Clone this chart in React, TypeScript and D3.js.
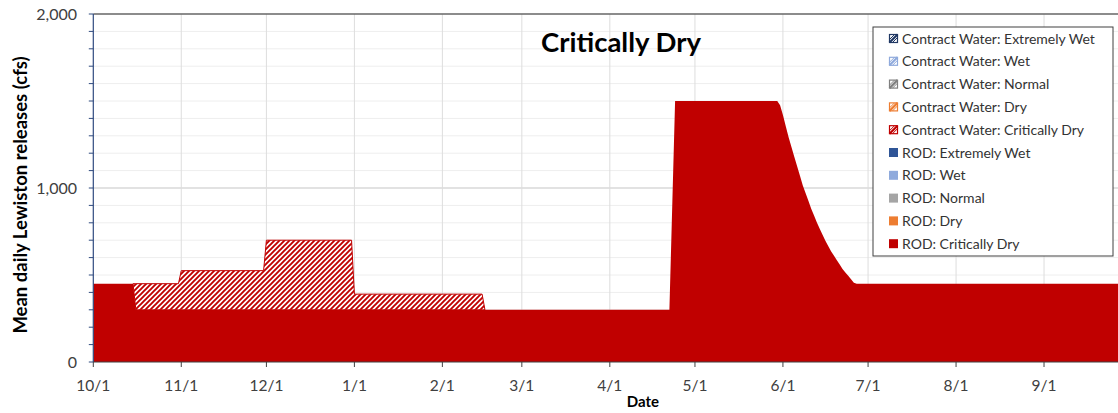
import React from 'react';
import * as d3 from 'd3';

// ---- data ----
const dates = [
  "10/1", "10/15", "10/16", "10/31", "11/1", "11/30", "12/1", "12/31", "1/1", "2/15", "2/16",
  "4/22", "4/24", "5/30",
  "5/31", "6/1", "6/2", "6/3", "6/4", "6/5", "6/6", "6/7", "6/8", "6/9", "6/10", "6/11", "6/12", "6/13",
  "6/14", "6/15", "6/16", "6/17", "6/18", "6/19", "6/20", "6/21", "6/22", "6/23", "6/24", "6/25", "6/26", "6/27",
  "9/30",
];
const rodCriticallyDry = [
  450, 450, 300, 300, 300, 300, 300, 300, 300, 300, 300,
  300, 1500, 1500,
  1475, 1420, 1355, 1292, 1235, 1180, 1125, 1070, 1015, 970, 925, 880, 840, 800,
  765, 730, 695, 665, 635, 610, 585, 560, 535, 515, 495, 475, 455, 450,
  450,
];
const contractCriticallyDry: (number | null)[] = [
  null, 0, 150, 150, 225, 225, 400, 400, 90, 90, 0,
  null, null, null,
  null, null, null, null, null, null, null, null, null, null, null, null, null, null,
  null, null, null, null, null, null, null, null, null, null, null, null, null, null,
  null,
];
const monthTicks = ["10/1", "11/1", "12/1", "1/1", "2/1", "3/1", "4/1", "5/1", "6/1", "7/1", "8/1", "9/1"];
const yTickValues = [0, 1000, 2000];
const legendItems = [
  { label: "Contract Water: Extremely Wet", color: "#203864", hatch: true },
  { label: "Contract Water: Wet", color: "#8FAADC", hatch: true },
  { label: "Contract Water: Normal", color: "#7F7F7F", hatch: true },
  { label: "Contract Water: Dry", color: "#ED7D31", hatch: true },
  { label: "Contract Water: Critically Dry", color: "#C00000", hatch: true },
  { label: "ROD: Extremely Wet", color: "#2F5597", hatch: false },
  { label: "ROD: Wet", color: "#8FAADC", hatch: false },
  { label: "ROD: Normal", color: "#A5A5A5", hatch: false },
  { label: "ROD: Dry", color: "#ED7D31", hatch: false },
  { label: "ROD: Critically Dry", color: "#C00000", hatch: false },
];

const parse = (s: string) => {
  const [m, d] = s.split('/').map(Number);
  return new Date(Date.UTC(m >= 10 ? 2018 : 2019, m - 1, d));
};

const FONT = "Lato, 'Open Sans', sans-serif";
const W = 1118, H = 413;
const x0 = 93.3, y0 = 362, yTop = 14;

export default function App() {
  const x = d3.scaleUtc()
    .domain([new Date(Date.UTC(2018, 9, 1)), new Date(Date.UTC(2019, 9, 1))])
    .range([x0, x0 + 365 * 2.838]);
  const y = d3.scaleLinear().domain([0, 2000]).range([y0, yTop]);

  const rows = dates.map((d, i) => ({ date: parse(d), rod: rodCriticallyDry[i], cw: contractCriticallyDry[i] }));

  const rodArea = d3.area<any>()
    .x(d => x(d.date)).y0(y(0)).y1(d => y(d.rod))(rows) || '';
  const cwArea = d3.area<any>()
    .defined(d => d.cw !== null)
    .x(d => x(d.date)).y0(d => y(d.rod)).y1(d => y(d.rod + d.cw))(rows) || '';

  const minor = d3.range(0, 2001, 100);
  const xRight = W;

  return (
    <svg width={W} height={H} style={{ position: 'absolute', left: 0, top: 0, background: '#fff' }}>
      <defs>
        <pattern id="hatch" patternUnits="userSpaceOnUse" width={5} height={5}>
          <rect width={5} height={5} fill="#fff" />
          <path d="M-1,1 L1,-1 M0,5 L5,0 M4,6 L6,4" stroke="#C00000" strokeWidth={1.9} />
        </pattern>
        <clipPath id="plotclip">
          <rect x={x0} y={0} width={W - x0} height={y0 + 1} />
        </clipPath>
      </defs>
      {/* gridlines */}
      {minor.filter(v => v > 0 && v < 2000).map(v => (
        <line key={'h' + v} x1={x0} x2={xRight} y1={y(v)} y2={y(v)}
          stroke={v === 1000 ? '#D9D9D9' : '#EEEEEE'} strokeWidth={v === 1000 ? 1.5 : 1} />
      ))}
      {monthTicks.slice(1).map(t => (
        <line key={'v' + t} x1={x(parse(t))} x2={x(parse(t))} y1={yTop} y2={y0} stroke="#DDDDDD" strokeWidth={1} />
      ))}
      <g clipPath="url(#plotclip)">
        <path d={rodArea} fill="#C00000" />
        <path d={cwArea} fill="url(#hatch)" stroke="#C00000" strokeWidth={1} />
      </g>
      {/* top border */}
      <line x1={x0} x2={xRight} y1={yTop} y2={yTop} stroke="#666666" strokeWidth={1.5} />
      {/* y axis */}
      <line x1={x0} x2={x0} y1={yTop} y2={y0} stroke="#2F4A7F" strokeWidth={1.2} />
      {minor.map(v => (
        <line key={'t' + v} x1={x0 - 4.5} x2={x0} y1={y(v)} y2={y(v)} stroke="#2F4A7F" strokeWidth={1} />
      ))}
      {yTickValues.map(v => (
        <text key={'yl' + v} x={77} y={y(v)} dy="0.35em" textAnchor="end" fontFamily={FONT}
          fontSize={16} fill="#404040">{d3.format(',')(v)}</text>
      ))}
      {/* x axis */}
      <line x1={x0} x2={xRight} y1={y0} y2={y0} stroke="#404040" strokeWidth={1.2} />
      {monthTicks.map(t => (
        <g key={'x' + t}>
          <line x1={x(parse(t))} x2={x(parse(t))} y1={y0} y2={y0 + 5} stroke="#404040" strokeWidth={1} />
          <text x={x(parse(t))} y={391} textAnchor="middle" fontFamily={FONT} fontSize={15.5} fill="#404040">{t}</text>
        </g>
      ))}
      <text x={643} y={407} textAnchor="middle" fontFamily={FONT} fontWeight="bold" fontSize={15} fill="#000">Date</text>
      <text transform="translate(27,195) rotate(-90)" textAnchor="middle" fontFamily={FONT} fontWeight="bold"
        fontSize={18.5} fill="#000">Mean daily Lewiston releases (cfs)</text>
      {/* title */}
      <text x={621} y={52} textAnchor="middle" fontFamily={FONT} fontWeight="bold" fontSize={27.5} fill="#000">Critically Dry</text>
      {/* legend */}
      <rect x={873} y={27} width={240} height={229} fill="#fff" stroke="#404040" strokeWidth={1} />
      {legendItems.map((it, i) => {
        const cy = 38.5 + i * 22.8;
        return (
          <g key={it.label}>
            {it.hatch ? (
              <g>
                <rect x={889.5} y={cy - 4} width={8} height={8} fill="#fff" stroke={it.color} strokeWidth={1.2} />
                <path d={`M${889.5},${cy + 4} L${897.5},${cy - 4}`} stroke={it.color} strokeWidth={2.2} />
                <path d={`M${889.5},${cy + 1} L${894.5},${cy - 4}`} stroke={it.color} strokeWidth={1} />
                <path d={`M${892.5},${cy + 4} L${897.5},${cy - 1}`} stroke={it.color} strokeWidth={1} />
              </g>
            ) : (
              <rect x={889} y={cy - 4.5} width={9} height={9} fill={it.color} />
            )}
            <text x={902} y={cy} dy="0.36em" fontFamily={FONT} fontSize={14} fill="#333333">{it.label}</text>
          </g>
        );
      })}
    </svg>
  );
}
